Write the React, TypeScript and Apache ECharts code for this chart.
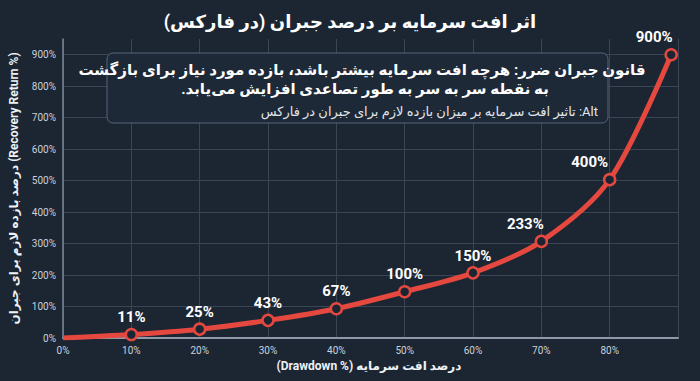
import React, { useEffect, useRef } from "react";
import * as echarts from "echarts";

const RLE = "\u202B";
const PDF = "\u202C";
const LRI = "\u2066";
const PDI = "\u2069";

const titleText = "اثر افت سرمایه بر درصد جبران (در فارکس)";
const xAxisName = "درصد افت سرمایه ";
const xAxisNameEn = "(Drawdown %)";
const yAxisName = "درصد بازده لازم برای جبران (Recovery Return %)";
const noteLine1 = "قانون جبران ضرر: هرچه افت سرمایه بیشتر باشد، بازده مورد نیاز برای بازگشت";
const noteLine2 = "به نقطه سر به سر به طور تصاعدی افزایش می‌یابد.";
const noteLine3 = "Alt: تاثیر افت سرمایه بر میزان بازده لازم برای جبران در فارکس";

// drawdown (%) positions of the points
const drawdowns = [0, 10, 20, 30, 40, 50, 60, 70, 80, 89];
// plotted heights (%)
const recovery = [0, 11, 28, 56, 93, 147, 207, 307, 503, 900];
// labels written above the points
const pointLabels = ["", "11%", "25%", "43%", "67%", "100%", "150%", "233%", "400%", "900%"];
const labelShiftX = [0, 0, 0, 0, 0, 0, 0, -16, -20, -17];

const BG = "#1c2633";
const RED = "#e5483f";
const FONT = "Roboto, 'DejaVu Sans', sans-serif";

export default function App() {
  const ref = useRef<HTMLDivElement>(null);
  useEffect(() => {
    document.body.style.margin = "0";
    if (!ref.current) return;
    const chart = echarts.init(ref.current, null, { renderer: "svg" });
    const data = drawdowns.map((x, i) => ({
      value: [x, recovery[i]],
      symbolSize: i === 0 ? 0 : 11,
      label: {
        show: i !== 0,
        offset: [labelShiftX[i], 0],
      },
    }));
    chart.setOption({
      animation: false,
      backgroundColor: BG,
      textStyle: { fontFamily: FONT },
      title: {
        text: RLE + titleText + PDF,
        left: "center",
        top: 7,
        textStyle: { color: "#ffffff", fontSize: 18, fontWeight: "bold", fontFamily: FONT },
      },
      grid: { left: 60, right: 22, top: 39, bottom: 43 },
      xAxis: {
        type: "value",
        min: 0,
        max: 90,
        interval: 10,
        axisLine: { show: true, lineStyle: { color: "#8d99a8", width: 2 } },
        axisTick: { show: false },
        axisLabel: {
          formatter: "{value}%",
          color: "#c9d1db",
          fontSize: 10,
          margin: 7,
          showMaxLabel: false,
        },
        splitLine: { show: true, lineStyle: { color: "#3a4656", width: 1 } },
      },
      yAxis: {
        type: "value",
        min: 0,
        max: 950,
        interval: 100,
        name: yAxisName,
        nameLocation: "middle",
        nameGap: 43,
        nameRotate: 90,
        nameTextStyle: { color: "#eef2f6", fontSize: 12, fontWeight: "bold", fontFamily: FONT },
        axisLine: { show: true, lineStyle: { color: "#7c8898", width: 1.5 } },
        axisTick: { show: false },
        axisLabel: {
          formatter: "{value}%",
          color: "#c9d1db",
          fontSize: 10,
          margin: 7,
          showMaxLabel: false,
        },
        splitLine: { show: true, showMaxLine: false, lineStyle: { color: "#3a4656", width: 1 } },
      },
      series: [
        {
          type: "line",
          data,
          smooth: 0.3,
          symbol: "circle",
          lineStyle: { color: RED, width: 5 },
          itemStyle: { color: BG, borderColor: RED, borderWidth: 2.5 },
          label: {
            show: true,
            position: "top",
            distance: 3,
            color: "#ffffff",
            fontSize: 15,
            fontWeight: "bold",
            fontFamily: FONT,
            formatter: (p: any) => pointLabels[p.dataIndex],
          },
          z: 5,
        },
      ],
      graphic: [
        {
          type: "rect",
          z: 100,
          shape: { x: 107, y: 53, width: 501, height: 70, r: 6 },
          style: { fill: "#1e2937", stroke: "#56657a", lineWidth: 1 },
        },
        {
          type: "text",
          z: 101,
          x: 362,
          y: 70,
          style: {
            text: RLE + noteLine1 + PDF,
            fill: "#ffffff",
            fontSize: 15,
            fontWeight: "bold",
            fontFamily: FONT,
            textAlign: "center",
            textVerticalAlign: "middle",
          },
        },
        {
          type: "text",
          z: 101,
          x: 365,
          y: 89,
          style: {
            text: RLE + noteLine2 + PDF,
            fill: "#ffffff",
            fontSize: 15,
            fontWeight: "bold",
            fontFamily: FONT,
            textAlign: "center",
            textVerticalAlign: "middle",
          },
        },
        {
          type: "text",
          z: 101,
          x: 598,
          y: 111,
          style: {
            text: RLE + noteLine3 + PDF,
            fill: "#e1e6ec",
            fontSize: 13,
            fontFamily: FONT,
            textAlign: "right",
            textVerticalAlign: "middle",
          },
        },
        {
          type: "text",
          z: 101,
          x: 369,
          y: 366,
          style: {
            text: RLE + xAxisName + LRI + xAxisNameEn + PDI + PDF,
            fill: "#eef2f6",
            fontSize: 12,
            fontWeight: "bold",
            fontFamily: FONT,
            textAlign: "center",
            textVerticalAlign: "middle",
          },
        },
      ],
    });
    return () => chart.dispose();
  }, []);
  return <div ref={ref} style={{ width: 700, height: 381 }} />;
}
